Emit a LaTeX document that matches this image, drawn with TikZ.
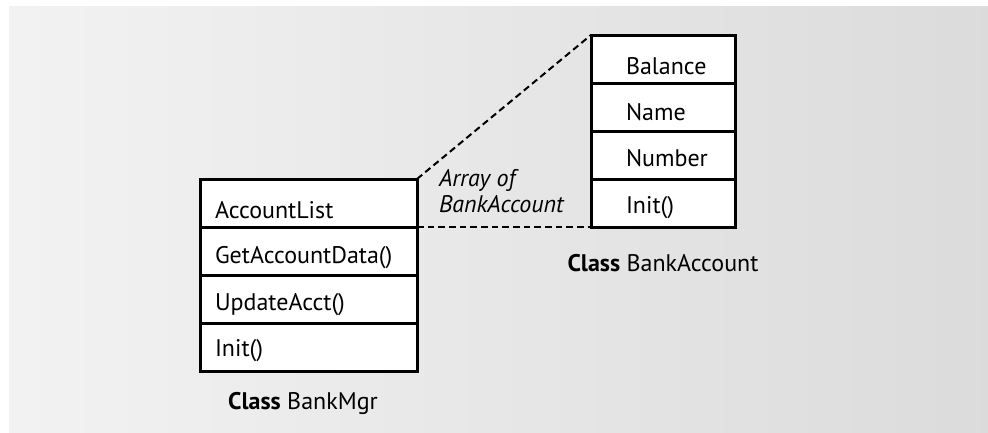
\documentclass[tikz,border=0pt]{standalone}
\usepackage{fontspec}
\setmainfont{PT Sans}
\begin{document}
\begin{tikzpicture}[x=0.75pt,y=-0.75pt,
  every node/.style={inner sep=0pt, outer sep=0pt},
  cell/.style={draw=black, line width=2.25pt, fill=white, rectangle, anchor=north west, minimum height=36pt},
  lefttbl/.style={cell, minimum width=162.75pt},
  righttbl/.style={cell, minimum width=108pt},
  entry/.style={anchor=base west, font=\fontsize{18}{20}\selectfont},
  caption/.style={anchor=base, font=\fontsize{18}{20}\selectfont},
  link/.style={line width=1.5pt, dash pattern=on 5pt off 3pt}]
\useasboundingbox (0,0) rectangle (988,432);
% shaded backdrop
\shade[left color=black!5, right color=black!14] (9,6) rectangle (988,432);

% class BankMgr
\node[lefttbl] (m1) at (200,179) {};
\node[lefttbl] (m2) at (200,227) {};
\node[lefttbl] (m3) at (200,275) {};
\node[lefttbl] (m4) at (200,323) {};
\node[entry] (t1) at (215,218) {AccountList};
\node[entry] (t2) at (215,263) {GetAccountData()};
\node[entry] (t3) at (215,310) {UpdateAcct()};
\node[entry] (t4) at (215,356) {Init()};
\node[caption] (cm) at (303,409) {\textbf{Class} BankMgr};

% class BankAccount
\node[righttbl] (a1) at (591,35) {};
\node[righttbl] (a2) at (591,83) {};
\node[righttbl] (a3) at (591,131) {};
\node[righttbl] (a4) at (591,179) {};
\node[entry] (u1) at (626,74) {Balance};
\node[entry] (u2) at (626,120) {Name};
\node[entry] (u3) at (626,166) {Number};
\node[entry] (u4) at (626,213) {Init()};
\node[caption] (ca) at (663,271) {\textbf{Class} BankAccount};

% expansion of AccountList
\draw[link] (m1.north east) -- (a1.north west);
\draw[link] (m1.south east) -- (a4.south west);
\node[entry, font=\fontsize{18}{20}\selectfont\itshape] (r1) at (439,186) {Array of};
\node[entry, font=\fontsize{18}{20}\selectfont\itshape] (r2) at (439,212) {BankAccount};
\end{tikzpicture}
\end{document}
